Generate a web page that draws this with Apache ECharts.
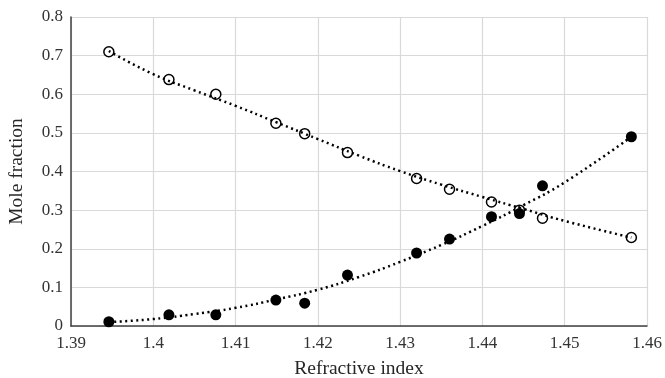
<!DOCTYPE html>
<html><head><meta charset="utf-8">
<script src="https://cdn.jsdelivr.net/npm/echarts@6/dist/echarts.min.js"></script>
<style>html,body{margin:0;padding:0;background:#fff}#c{width:665px;height:378px}</style>
</head><body><div id="c"></div>
<script>
const refrIndex = [1.3946, 1.4019, 1.4076, 1.4149, 1.4184, 1.4236, 1.4320, 1.4360, 1.4411, 1.4445, 1.4473, 1.4581];
const openVals  = [0.710, 0.638, 0.600, 0.525, 0.498, 0.449, 0.382, 0.354, 0.321, 0.300, 0.279, 0.229];
const filledVals= [0.011, 0.029, 0.029, 0.067, 0.059, 0.132, 0.189, 0.225, 0.283, 0.291, 0.363, 0.490];
const trendX    = [1.3946, 1.400, 1.405, 1.410, 1.415, 1.420, 1.425, 1.430, 1.435, 1.440, 1.445, 1.450, 1.4581];
const trendOpen = [0.712, 0.652, 0.610, 0.570, 0.527, 0.484, 0.441, 0.401, 0.366, 0.334, 0.303, 0.272, 0.229];
const trendFill = [0.010, 0.018, 0.031, 0.047, 0.069, 0.094, 0.127, 0.166, 0.210, 0.259, 0.313, 0.372, 0.490];
const xTicks = ['1.39','1.4','1.41','1.42','1.43','1.44','1.45','1.46'];
const yTicks = ['0','0.1','0.2','0.3','0.4','0.5','0.6','0.7','0.8'];

const pairs = (xs, ys) => xs.map((x, i) => [x, ys[i]]);
const font = 'Liberation Serif';
const chart = echarts.init(document.getElementById('c'));
chart.setOption({
  animation: false,
  grid: {left: 71, right: 18, top: 17, bottom: 52, containLabel: false, outerBoundsMode: 'none'},
  xAxis: {
    type: 'value', min: 1.39, max: 1.46, interval: 0.01,
    name: 'Refractive index', nameLocation: 'middle', nameGap: 33,
    nameTextStyle: {fontFamily: font, fontSize: 19.5, color: '#262626'},
    axisLine: {show: true, lineStyle: {color: '#404040', width: 1.5}},
    axisTick: {show: false},
    axisLabel: {fontFamily: font, fontSize: 17, color: '#333', margin: 9,
      formatter: v => xTicks[Math.round((v - 1.39) / 0.01)]},
    splitLine: {show: true, lineStyle: {color: '#d9d9d9', width: 1.2}}
  },
  yAxis: {
    type: 'value', min: 0, max: 0.8, interval: 0.1,
    name: 'Mole fraction', nameLocation: 'middle', nameGap: 44,
    nameTextStyle: {fontFamily: font, fontSize: 19.5, color: '#262626'},
    axisLine: {show: true, lineStyle: {color: '#404040', width: 1.5}},
    axisTick: {show: false},
    axisLabel: {fontFamily: font, fontSize: 17, color: '#333', margin: 8,
      formatter: v => yTicks[Math.round(v / 0.1)]},
    splitLine: {show: true, lineStyle: {color: '#d9d9d9', width: 1.2}}
  },
  series: [
    {type: 'scatter', data: pairs(refrIndex, openVals), symbol: 'circle', symbolSize: 10,
      itemStyle: {color: '#fff', borderColor: '#000', borderWidth: 1.5, opacity: 1}, z: 3},
    {type: 'scatter', data: pairs(refrIndex, filledVals), symbol: 'circle', symbolSize: 11,
      itemStyle: {color: '#000', opacity: 1}, z: 3},
    {type: 'line', data: pairs(trendX, trendOpen), smooth: true, showSymbol: false, symbol: 'none',
      lineStyle: {color: '#000', width: 2.5, type: [2, 3.5]}, z: 5},
    {type: 'line', data: pairs(trendX, trendFill), smooth: true, showSymbol: false, symbol: 'none',
      lineStyle: {color: '#000', width: 2.5, type: [2, 3.5]}, z: 5}
  ]
});
</script></body></html>
